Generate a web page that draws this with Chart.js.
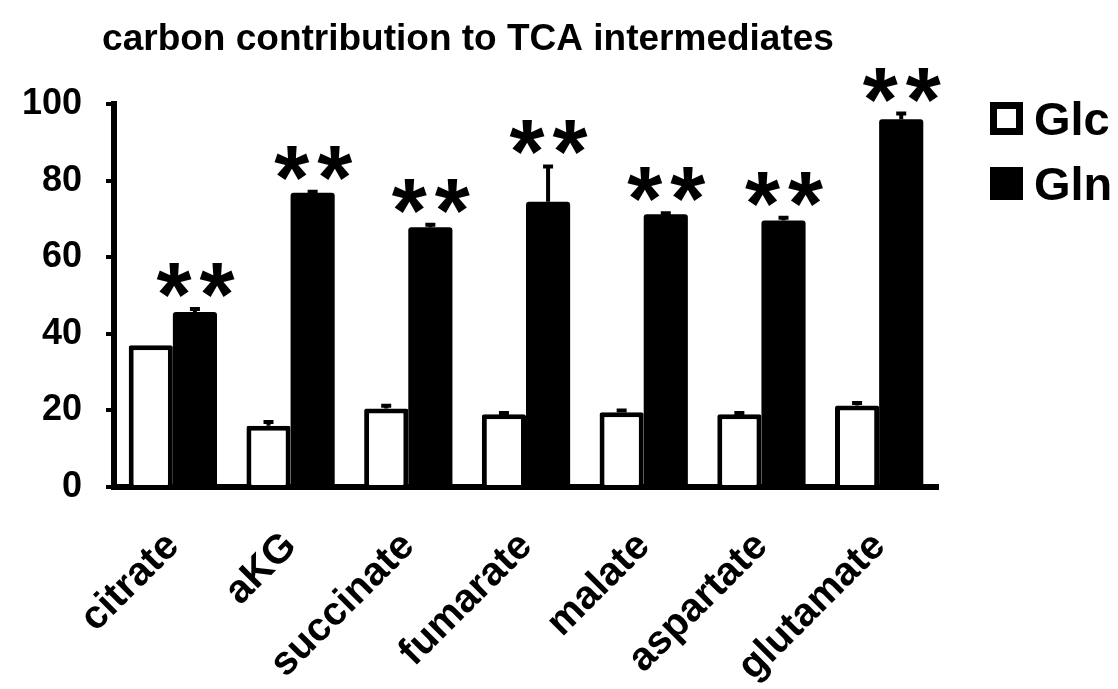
<!DOCTYPE html>
<html>
<head>
<meta charset="utf-8">
<script src="https://cdn.jsdelivr.net/npm/chart.js@4"></script>
<style>
html,body{margin:0;padding:0;background:#fff;}
canvas{display:block;}
</style>
</head>
<body>
<canvas id="c" width="1118" height="689"></canvas>
<script>
const categories = ['citrate','aKG','succinate','fumarate','malate','aspartate','glutamate'];
const glcValues = [37, 16, 20.5, 19, 19.5, 19, 21.3];
const glcErrors = [0, 1.0, 0.7, 0.3, 0.5, 0.3, 0.6];
const glnValues = [45.7, 76.8, 67.8, 74.5, 71.2, 69.6, 96];
const glnErrors = [0.8, 0.3, 0.7, 9.2, 0.3, 0.7, 1.5];
const significance = ['**','**','**','**','**','**','**'];
const yTicks = [0, 20, 40, 60, 80, 100];
const titleText = 'carbon contribution to TCA intermediates';
const seriesNames = ['Glc','Gln'];

const FONT = '"Liberation Sans", Arial, sans-serif';

const errorBarPlugin = {
  id: 'errorBars',
  afterDatasetsDraw(chart) {
    const ctx = chart.ctx;
    const y = chart.scales.y;
    const errs = [glcErrors, glnErrors];
    ctx.save();
    ctx.strokeStyle = '#000';
    ctx.lineWidth = 4;
    errs.forEach((errArr, di) => {
      const meta = chart.getDatasetMeta(di);
      meta.data.forEach((bar, i) => {
        const e = errArr[i];
        if (!e) return;
        const v = chart.data.datasets[di].data[i];
        const yTop = y.getPixelForValue(v + e);
        const yBase = y.getPixelForValue(v);
        ctx.beginPath();
        ctx.moveTo(bar.x, yBase);
        ctx.lineTo(bar.x, yTop);
        ctx.moveTo(bar.x - 5, yTop);
        ctx.lineTo(bar.x + 5, yTop);
        ctx.stroke();
      });
    });
    ctx.restore();
  }
};

const annotationPlugin = {
  id: 'annotations',
  afterDraw(chart) {
    const ctx = chart.ctx;
    const y = chart.scales.y;
    ctx.save();
    // title
    ctx.fillStyle = '#000';
    ctx.font = 'bold 37px ' + FONT;
    ctx.textAlign = 'center';
    ctx.textBaseline = 'alphabetic';
    ctx.fillText(titleText, 468, 50);
    // significance stars
    ctx.font = 'bold 90px ' + FONT;
    const m = ctx.measureText('*');
    const meta = chart.getDatasetMeta(1);
    meta.data.forEach((bar, i) => {
      const s = significance[i];
      if (!s) return;
      const top = y.getPixelForValue(glnValues[i] + glnErrors[i]);
      const bottom = top - 12;
      const baseline = bottom - m.actualBoundingBoxDescent;
      ctx.fillText('*', bar.x - 21, baseline);
      ctx.fillText('*', bar.x + 22, baseline);
    });
    // legend
    const lx = 990, ly = [102, 167], bs = 33;
    ctx.font = 'bold 47px ' + FONT;
    ctx.textAlign = 'left';
    ctx.textBaseline = 'alphabetic';
    seriesNames.forEach((name, i) => {
      if (i === 0) {
        ctx.fillStyle = '#fff';
        ctx.fillRect(lx, ly[i], bs, bs);
        ctx.strokeStyle = '#000';
        ctx.lineWidth = 7;
        ctx.strokeRect(lx + 3.5, ly[i] + 3.5, bs - 7, bs - 7);
      } else {
        ctx.fillStyle = '#000';
        ctx.fillRect(lx, ly[i], bs, bs);
      }
      ctx.fillStyle = '#000';
      ctx.fillText(name, lx + 44, ly[i] + bs);
    });
    ctx.restore();
  }
};

new Chart(document.getElementById('c'), {
  type: 'bar',
  data: {
    labels: categories,
    datasets: [
      {
        label: seriesNames[0],
        data: glcValues,
        backgroundColor: '#fff',
        borderColor: '#000',
        borderWidth: 5,
        borderSkipped: 'start',
        borderRadius: 2,
        categoryPercentage: 0.75,
        barPercentage: 1.0
      },
      {
        label: seriesNames[1],
        data: glnValues,
        backgroundColor: '#000',
        borderColor: '#000',
        borderWidth: 0,
        borderRadius: 3,
        categoryPercentage: 0.75,
        barPercentage: 1.0
      }
    ]
  },
  options: {
    responsive: false,
    animation: false,
    devicePixelRatio: 1,
    layout: { padding: { top: 104, right: 180, left: 0, bottom: 0 } },
    plugins: {
      legend: { display: false },
      title: { display: false },
      tooltip: { enabled: false }
    },
    scales: {
      x: {
        offset: true,
        grid: { display: false },
        border: { display: true, color: '#000', width: 6 },
        ticks: {
          color: '#000',
          font: { family: FONT, size: 40, weight: 'bold' },
          minRotation: 45,
          maxRotation: 45,
          autoSkip: false,
          padding: 28
        },
        afterFit(scale) { scale.height = 202; }
      },
      y: {
        min: 0,
        max: 100,
        afterBuildTicks(scale) { scale.ticks = yTicks.map(v => ({ value: v })); },
        grid: {
          display: true,
          drawOnChartArea: false,
          drawTicks: true,
          tickLength: 8,
          color: '#000',
          lineWidth: 4
        },
        border: { display: true, color: '#000', width: 6 },
        ticks: {
          color: '#000',
          font: { family: FONT, size: 36, weight: 'bold' },
          padding: 24
        },
        afterFit(scale) { scale.width = 114; }
      }
    }
  },
  plugins: [errorBarPlugin, annotationPlugin]
});
</script>
</body>
</html>
